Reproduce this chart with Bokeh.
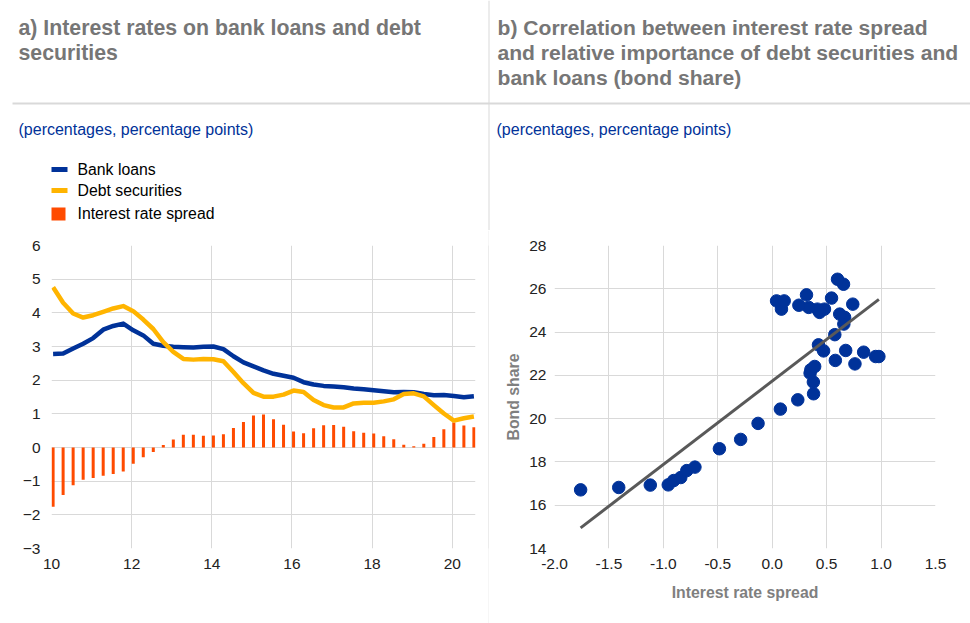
import numpy as np
from bokeh.plotting import figure
from bokeh.layouts import column, row
from bokeh.models import Range1d, FixedTicker, NumeralTickFormatter
from bokeh.core.properties import value
from bokeh.embed import file_html
from bokeh.resources import INLINE

# ---------------- data ----------------
# quarterly observations 2010Q1 - 2020Q3 (x axis in years since 2000)
time = [10.04 + 0.25 * i for i in range(43)]

bank_loans = [2.78, 2.79, 2.94, 3.08, 3.25, 3.50, 3.61, 3.68, 3.48, 3.33,
              3.08, 3.02, 2.99, 2.98, 2.97, 2.99, 3.00, 2.92, 2.71, 2.53,
              2.41, 2.29, 2.19, 2.13, 2.07, 1.94, 1.87, 1.83, 1.81, 1.79,
              1.75, 1.73, 1.70, 1.67, 1.64, 1.65, 1.64, 1.59, 1.55, 1.56,
              1.53, 1.49, 1.52]

debt_securities = [4.76, 4.30, 3.98, 3.86, 3.93, 4.03, 4.13, 4.20, 4.05, 3.80,
                   3.52, 3.13, 2.84, 2.63, 2.61, 2.63, 2.62, 2.56, 2.24, 1.91,
                   1.62, 1.51, 1.51, 1.57, 1.69, 1.65, 1.41, 1.26, 1.19, 1.19,
                   1.31, 1.33, 1.33, 1.37, 1.43, 1.59, 1.61, 1.52, 1.26, 1.01,
                   0.80, 0.87, 0.92]

spread = [-1.76, -1.41, -1.12, -0.955, -0.905, -0.84, -0.785, -0.71, -0.485, -0.29,
          -0.13, 0.075, 0.235, 0.38, 0.378, 0.348, 0.355, 0.39, 0.58, 0.76,
          0.95, 0.98, 0.84, 0.675, 0.472, 0.425, 0.575, 0.658, 0.665, 0.62,
          0.48, 0.435, 0.415, 0.335, 0.245, 0.085, 0.04, 0.11, 0.315, 0.545,
          0.74, 0.655, 0.60]

bond_share = [16.71, 16.82, 16.93, 16.94, 17.14, 17.28, 17.60, 17.76, 18.61, 19.04,
              19.78, 20.44, 20.87, 21.15, 21.69, 22.10, 22.26, 22.41, 22.69, 22.53,
              22.87, 22.87, 23.07, 23.15, 23.13, 23.41, 23.88, 24.37, 24.68, 24.83,
              25.06, 24.91, 25.06, 25.14, 25.24, 25.06, 25.44, 25.44, 25.72, 25.57,
              25.29, 26.21, 26.44]

left_x_ticks = [10, 12, 14, 16, 18, 20]
left_y_ticks = [-3, -2, -1, 0, 1, 2, 3, 4, 5, 6]
right_x_ticks = [-2.0, -1.5, -1.0, -0.5, 0.0, 0.5, 1.0, 1.5]
right_y_ticks = [14, 16, 18, 20, 22, 24, 26, 28]

title_a = ["a) Interest rates on bank loans and debt", "securities"]
title_b = ["b) Correlation between interest rate spread",
           "and relative importance of debt securities and",
           "bank loans (bond share)"]
subtitle = "(percentages, percentage points)"
legend_labels = ["Bank loans", "Debt securities", "Interest rate spread"]

# ---------------- style ----------------
FONT = "Liberation Sans"
BLUE = "#003299"
YELLOW = "#ffb400"
ORANGE = "#ff4b00"
GRID = "#d9d9d9"
TITLE_GREY = "#767676"
TICK_COL = "#222222"

W = 970
H_HEAD = 230
H_CHART = 393

# ---------------- header ----------------
hdr = figure(width=W, height=H_HEAD, x_range=Range1d(0, W), y_range=Range1d(H_HEAD, 0),
             x_axis_type=None, y_axis_type=None, output_backend="svg",
             toolbar_location=None, min_border=0, outline_line_color=None)
hdr.grid.visible = False

hdr.text(x=[18, 18], y=[27, 52], text=title_a, text_font=value(FONT),
         text_font_size="21.3px", text_font_style="bold", text_color=TITLE_GREY,
         text_baseline="middle", text_align="left")
hdr.text(x=[497, 497, 497], y=[27, 52, 77], text=title_b, text_font=value(FONT),
         text_font_size="21.1px", text_font_style="bold", text_color=TITLE_GREY,
         text_baseline="middle", text_align="left")
hdr.segment(x0=[12], y0=[103], x1=[W], y1=[103], line_color=GRID, line_width=2)
hdr.segment(x0=[488.5], y0=[0], x1=[488.5], y1=[H_HEAD], line_color=GRID, line_width=1)
hdr.text(x=[18, 496], y=[129, 129], text=[subtitle, subtitle], text_font=value(FONT),
         text_font_size="16px", text_color=BLUE, text_baseline="middle",
         text_align="left")

# legend
hdr.rect(x=[59], y=[169], width=16, height=5, fill_color=BLUE, line_color=None)
hdr.rect(x=[59], y=[190], width=16, height=5, fill_color=YELLOW, line_color=None)
hdr.rect(x=[58], y=[213.5], width=14, height=13, fill_color=ORANGE, line_color=None)
hdr.text(x=[77, 77, 77], y=[169, 190, 213], text=legend_labels, text_font=value(FONT),
         text_font_size="15.8px", text_color="#000000", text_baseline="middle",
         text_align="left")


def style(p):
    p.outline_line_color = None
    p.axis.axis_line_color = None
    p.axis.major_tick_line_color = None
    p.axis.minor_tick_line_color = None
    p.axis.major_tick_out = 0
    p.axis.major_tick_in = 0
    p.axis.minor_tick_out = 0
    p.axis.minor_tick_in = 0
    p.axis.major_label_text_font = FONT
    p.axis.major_label_text_font_size = "15.5px"
    p.axis.major_label_text_color = TICK_COL
    p.grid.grid_line_color = GRID
    p.grid.grid_line_width = 1


# ---------------- left chart ----------------
left = figure(width=488, height=H_CHART, x_range=Range1d(10, 20.58), y_range=Range1d(-3, 6),
              output_backend="svg", toolbar_location=None,
              min_border_left=51, min_border_right=13, min_border_top=15, min_border_bottom=75)
style(left)
left.xaxis.ticker = FixedTicker(ticks=left_x_ticks)
left.yaxis.ticker = FixedTicker(ticks=left_y_ticks)
left.xaxis.major_label_standoff = 10
left.yaxis.major_label_standoff = 11

left.vbar(x=time, top=spread, bottom=0, width=0.075, fill_color=ORANGE, line_color=None)
left.line(time, bank_loans, line_color=BLUE, line_width=4.5, line_join="round")
left.line(time, debt_securities, line_color=YELLOW, line_width=4.5, line_join="round")

# ---------------- divider ----------------
div = figure(width=1, height=H_CHART, x_axis_type=None, y_axis_type=None,
             output_backend="svg", toolbar_location=None, min_border=0,
             outline_line_color=None, background_fill_color=GRID, border_fill_color=GRID)
div.grid.visible = False

# ---------------- right chart ----------------
right = figure(width=481, height=H_CHART, x_range=Range1d(-2.0, 1.5), y_range=Range1d(14, 28),
               output_backend="svg", toolbar_location=None,
               min_border_left=65, min_border_right=35, min_border_top=14, min_border_bottom=74)
style(right)
right.xaxis.ticker = FixedTicker(ticks=right_x_ticks)
right.yaxis.ticker = FixedTicker(ticks=right_y_ticks)
right.xaxis.formatter = NumeralTickFormatter(format="0.0")
right.xaxis.major_label_standoff = 10
right.yaxis.major_label_standoff = 8
right.xaxis.axis_label = "Interest rate spread"
right.yaxis.axis_label = "Bond share"
for ax in (right.xaxis[0], right.yaxis[0]):
    ax.axis_label_text_font = FONT
    ax.axis_label_text_font_size = "15.8px"
    ax.axis_label_text_font_style = "bold"
    ax.axis_label_text_color = "#7f7f7f"
right.xaxis.axis_label_standoff = 12
right.yaxis.axis_label_standoff = 4

coef = np.polyfit(spread, bond_share, 1)
fit_x = [min(spread), max(spread)]
fit_y = [float(np.polyval(coef, v)) for v in fit_x]

right.scatter(spread, bond_share, size=12.5, fill_color=BLUE, line_color=BLUE)
right.line(fit_x, fit_y, line_color="#595959", line_width=3)

layout = column(hdr, row(left, div, right))

open("out.html", "w").write(file_html(layout, INLINE))
